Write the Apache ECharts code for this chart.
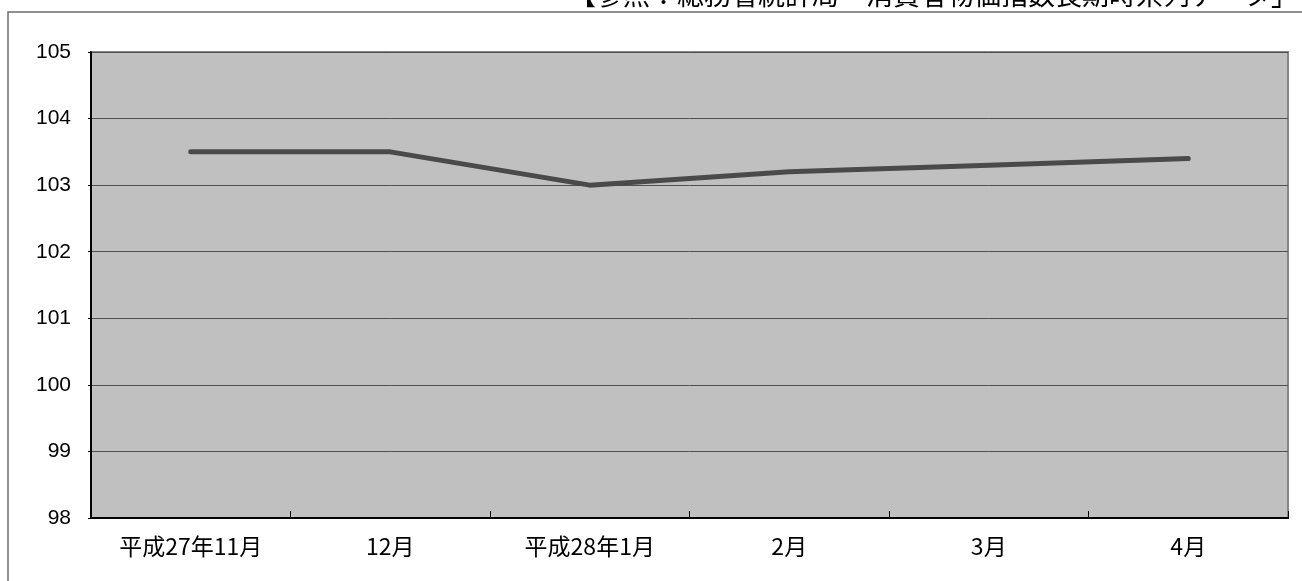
<!DOCTYPE html>
<html>
<head>
<meta charset="utf-8">
<script src="https://cdn.jsdelivr.net/npm/echarts@6/dist/echarts.min.js"></script>
<style>
  html, body { margin: 0; padding: 0; background: #ffffff; }
  #chart { width: 1302px; height: 581px; }
</style>
</head>
<body>
<div id="chart"></div>
<script>
// 消費者物価指数（総合）月次推移
const months = ['平成27年11月', '12月', '平成28年1月', '2月', '3月', '4月'];
const cpiValues = [103.5, 103.5, 103.0, 103.2, 103.3, 103.4];
const yTicks = [98, 99, 100, 101, 102, 103, 104, 105];
const sourceNote = '【参照：総務省統計局「消費者物価指数長期時系列データ」';

const chart = echarts.init(document.getElementById('chart'), null, { renderer: 'canvas' });

chart.setOption({
  animation: false,
  backgroundColor: '#ffffff',
  graphic: [
    {
      type: 'rect',
      z: 0,
      shape: { x: 8, y: 12, width: 1320, height: 600 },
      style: { fill: 'none', stroke: '#6e6e6e', lineWidth: 1.5 }
    },
    {
      type: 'text',
      right: 4,
      top: -19,
      style: {
        text: sourceNote,
        font: '27px "Noto Sans CJK JP"',
        fill: '#000000'
      }
    }
  ],
  grid: {
    left: 91,
    right: 14,
    top: 52,
    bottom: 63,
    outerBoundsMode: 'none',
    show: true,
    backgroundColor: '#c0c0c0',
    borderColor: '#858585',
    borderWidth: 2
  },
  xAxis: {
    type: 'category',
    data: months,
    boundaryGap: true,
    axisLine: { show: true, lineStyle: { color: '#000000', width: 2 } },
    axisTick: { show: true, inside: true, length: 7, lineStyle: { color: '#000000', width: 1 } },
    axisLabel: {
      color: '#000000',
      fontSize: 23,
      fontFamily: '"Noto Sans CJK JP"',
      margin: 17,
      interval: 0
    },
    splitLine: { show: false }
  },
  yAxis: {
    type: 'value',
    min: yTicks[0],
    max: yTicks[yTicks.length - 1],
    interval: 1,
    axisLine: { show: true, lineStyle: { color: '#000000', width: 2 } },
    axisTick: { show: true, inside: false, length: 3, lineStyle: { color: '#000000', width: 1 } },
    axisLabel: {
      color: '#000000',
      fontSize: 21,
      fontFamily: '"Liberation Sans", Arial, sans-serif',
      margin: 20
    },
    splitLine: { show: true, lineStyle: { color: '#505050', width: 1 } }
  },
  series: [
    {
      type: 'line',
      data: cpiValues,
      showSymbol: false,
      symbol: 'none',
      lineStyle: { color: '#4a4a4a', width: 5, cap: 'round', join: 'round' },
      z: 3
    }
  ]
});
</script>
</body>
</html>
